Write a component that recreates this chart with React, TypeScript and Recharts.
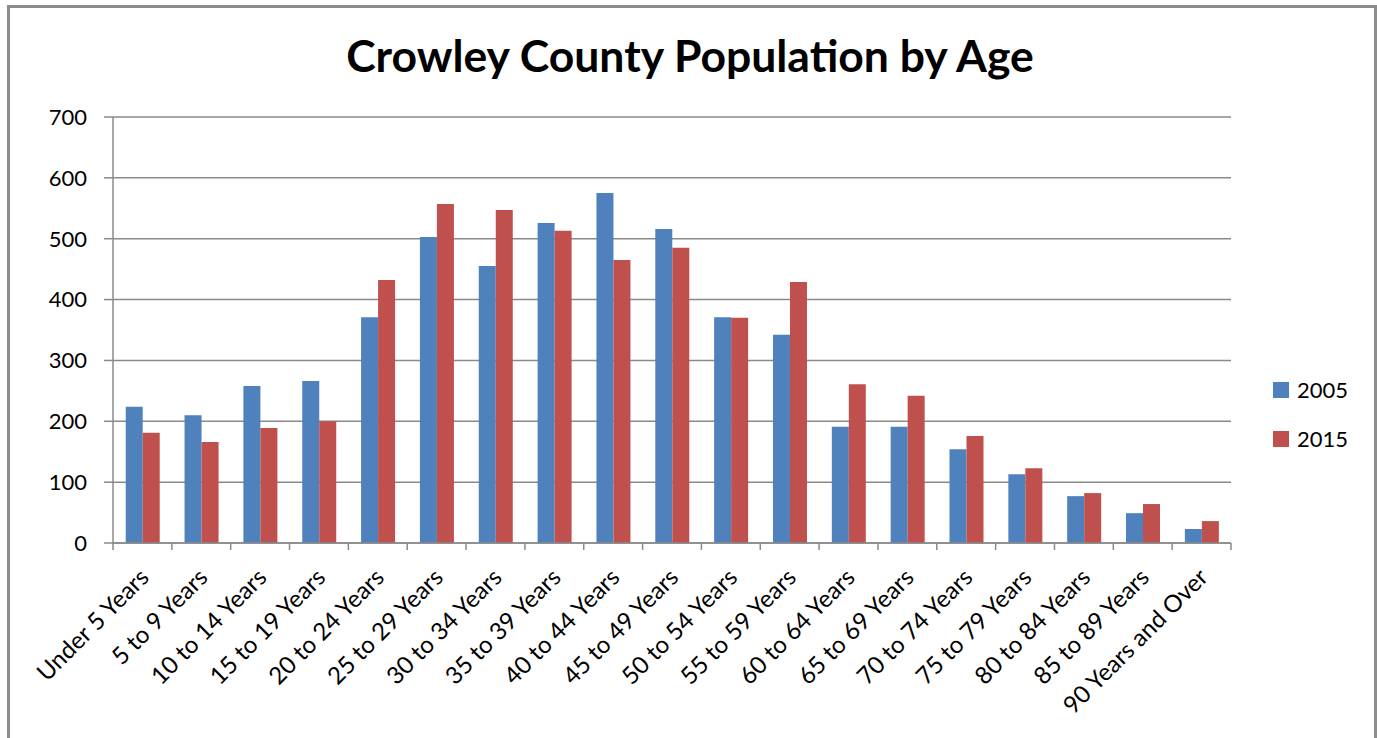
import React from 'react';
import { BarChart, Bar, XAxis, YAxis, CartesianGrid, Legend } from 'recharts';

const AGE_GROUPS = [
  'Under 5 Years',
  '5 to 9 Years',
  '10 to 14 Years',
  '15 to 19 Years',
  '20 to 24 Years',
  '25 to 29 Years',
  '30 to 34 Years',
  '35 to 39 Years',
  '40 to 44 Years',
  '45 to 49 Years',
  '50 to 54 Years',
  '55 to 59 Years',
  '60 to 64 Years',
  '65 to 69 Years',
  '70 to 74 Years',
  '75 to 79 Years',
  '80 to 84 Years',
  '85 to 89 Years',
  '90 Years and Over',
];

const POP_2005 = [224, 210, 258, 266, 371, 503, 455, 526, 575, 516, 371, 342, 191, 191, 154, 113, 77, 49, 23];
const POP_2015 = [181, 166, 189, 200, 432, 557, 547, 513, 465, 485, 370, 429, 261, 242, 176, 123, 82, 64, 36];

const Y_TICKS = [0, 100, 200, 300, 400, 500, 600, 700];

const data = AGE_GROUPS.map((age, i) => ({
  age,
  '2005': POP_2005[i],
  '2015': POP_2015[i],
}));

const FONT = 'Lato, "Open Sans", sans-serif';
const GRID = '#8a8a8a';
const BLUE = '#4F81BD';
const RED = '#C0504D';

// Category labels rotated 45°, with tick marks drawn on the category boundaries
const AgeTick = (props: any) => {
  const { x, y, payload, index } = props;
  const half = payload?.offset ?? 29.4;
  const tx = x + 2;
  const ty = y + 30;
  return (
    <g>
      <line x1={x - half} y1={y} x2={x - half} y2={y + 7} stroke={GRID} strokeWidth={1.5} />
      {index === AGE_GROUPS.length - 1 && (
        <line x1={x + half} y1={y} x2={x + half} y2={y + 7} stroke={GRID} strokeWidth={1.5} />
      )}
      <text
        x={tx}
        y={ty}
        dy="0.35em"
        textAnchor="end"
        transform={`rotate(-45, ${tx}, ${ty})`}
        fontSize={24}
        fontFamily={FONT}
        fill="#000"
      >
        {payload.value}
      </text>
    </g>
  );
};

const LegendBox = ({ payload }: any) => (
  <div style={{ fontFamily: FONT }}>
    {(payload || []).map((item: any) => (
      <div key={item.value} style={{ display: 'flex', alignItems: 'center', height: 49 }}>
        <span style={{ width: 16, height: 16, background: item.color, display: 'inline-block', marginRight: 8 }} />
        <span style={{ fontSize: 22, color: '#000' }}>{item.value}</span>
      </div>
    ))}
  </div>
);

export default function App() {
  return (
    <div style={{ position: 'absolute', left: 0, top: 0, width: 1377, height: 738, overflow: 'hidden', background: '#fff' }}>
      <div
        style={{
          position: 'absolute',
          left: 7,
          top: 5,
          width: 1364,
          height: 800,
          border: '3px solid #8c8c8c',
        }}
      />
      <BarChart
        width={1377}
        height={738}
        data={data}
        margin={{ top: 117, right: 146, bottom: 0, left: 0 }}
        barCategoryGap="21.6%"
        barGap={0}
      >
        <text x={690} y={72} textAnchor="middle" fontSize={44.5} fontWeight={700} fontFamily={FONT} fill="#000">
          Crowley County Population by Age
        </text>
        <CartesianGrid vertical={false} stroke={GRID} strokeWidth={1.5} />
        <XAxis
          dataKey="age"
          interval={0}
          height={195}
          tickLine={false}
          tickSize={0}
          tickMargin={0}
          axisLine={{ stroke: GRID, strokeWidth: 1.5 }}
          tick={<AgeTick />}
        />
        <YAxis
          width={113}
          domain={[0, 700]}
          ticks={Y_TICKS}
          interval={0}
          tickSize={9}
          tickMargin={17}
          tickLine={{ stroke: GRID, strokeWidth: 1.5 }}
          axisLine={{ stroke: GRID, strokeWidth: 1.5 }}
          tick={{ fill: '#000', fontSize: 22, fontFamily: FONT }}
        />
        <Legend
          layout="horizontal"
          verticalAlign="middle"
          align="center"
          content={<LegendBox />}
          wrapperStyle={{ left: 1273, top: 365, width: 100, height: 100 }}
        />
        <Bar dataKey="2005" fill={BLUE} isAnimationActive={false} />
        <Bar dataKey="2015" fill={RED} isAnimationActive={false} />
      </BarChart>
    </div>
  );
}
